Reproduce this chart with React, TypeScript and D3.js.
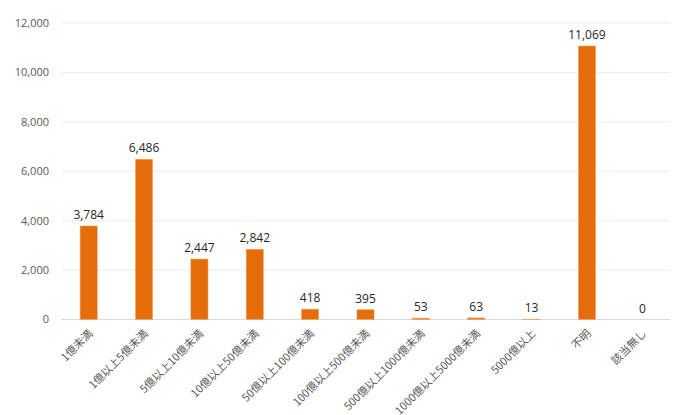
import React from "react";
import * as d3 from "d3";

const categories = [
  "1億未満",
  "1億以上5億未満",
  "5億以上10億未満",
  "10億以上50億未満",
  "50億以上100億未満",
  "100億以上500億未満",
  "500億以上1000億未満",
  "1000億以上5000億未満",
  "5000億以上",
  "不明",
  "該当無し",
];
const values = [3784, 6486, 2447, 2842, 418, 395, 53, 63, 13, 11069, 0];
const yTicks = [0, 2000, 4000, 6000, 8000, 10000, 12000];

const W = 688;
const H = 415;
const left = 61;
const right = 670;
const top = 23;
const bottom = 319.5;
const font = "'Noto Sans CJK JP', 'Noto Sans', sans-serif";
const numFont = "'Open Sans', 'Noto Sans', sans-serif";

export default function App() {
  const x = d3.scaleBand<string>().domain(categories).range([left, right]).paddingInner(0.69).paddingOuter(0.345);
  const y = d3.scaleLinear().domain([0, 12000]).range([bottom, top]);
  const fmt = d3.format(",");
  return (
    <svg width={W} height={H} style={{ position: "absolute", left: 0, top: 0, background: "#fff" }}>
      {yTicks.map((t) => (
        <g key={t}>
          <line x1={left} x2={right} y1={y(t)} y2={y(t)} stroke={t === 0 ? "#d9d9d9" : "#ececec"} strokeWidth={1} />
          <text x={49} y={y(t)} dy="0.35em" textAnchor="end" fontSize={11} fill="#595959" fontFamily={numFont}>
            {fmt(t)}
          </text>
        </g>
      ))}
      {categories.map((c, i) => {
        const bx = x(c)!;
        const bw = x.bandwidth();
        const v = values[i];
        const cx = bx + bw / 2;
        return (
          <g key={c}>
            {v > 0 && (
              <rect x={bx} y={y(v)} width={bw} height={bottom - y(v)} fill="#E46C0A" stroke="#F4A46A" strokeWidth={0.6} />
            )}
            <text x={cx} y={y(v) - 7} textAnchor="middle" fontSize={12} fill="#262626" fontFamily={numFont}>
              {fmt(v)}
            </text>
            <text
              transform={`translate(${cx + 2},${bottom + 12}) rotate(-45)`}
              textAnchor="end"
              dy="0.35em"
              fontSize={11}
              fill="#595959"
              fontFamily={font}
            >
              {c}
            </text>
          </g>
        );
      })}
    </svg>
  );
}
